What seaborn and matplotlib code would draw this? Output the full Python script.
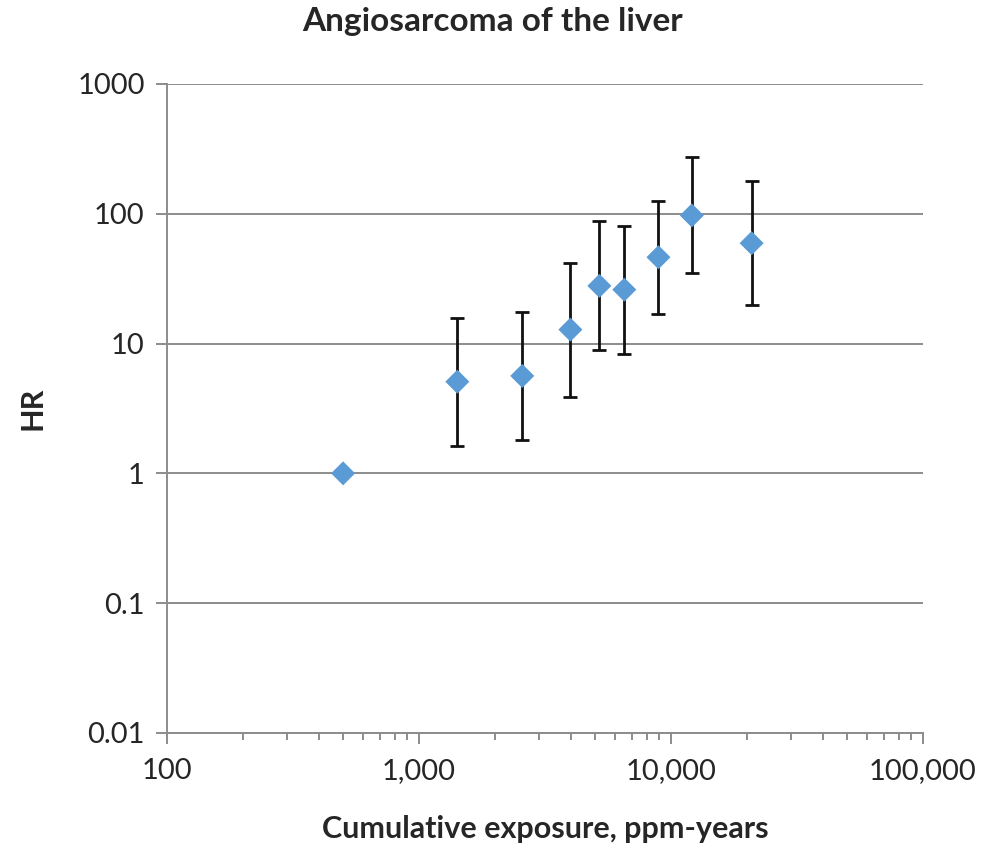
import numpy as np
import pandas as pd
import matplotlib
matplotlib.use('Agg')
import matplotlib.pyplot as plt
import matplotlib.ticker as mticker
import seaborn as sns

# data
exposure = [500, 1420, 2570, 3990, 5200, 6530, 8920, 12100, 20900]
hr = [1.0, 5.08, 5.63, 12.8, 27.8, 26.0, 46.2, 97.0, 59.3]
hr_low = [np.nan, 1.63, 1.80, 3.87, 8.94, 8.28, 17.0, 35.2, 19.8]
hr_high = [np.nan, 15.7, 17.5, 41.8, 87.2, 80.2, 125.0, 271.0, 178.0]

x_ticks = [100, 1000, 10000, 100000]
x_ticklabels = ['100', '1,000', '10,000', '100,000']
y_ticks = [0.01, 0.1, 1, 10, 100, 1000]
y_ticklabels = ['0.01', '0.1', '1', '10', '100', '1000']

df = pd.DataFrame({'exposure': exposure, 'HR': hr, 'low': hr_low, 'high': hr_high})

sns.set_style('white')
plt.rcParams['font.family'] = ['Lato', 'DejaVu Sans']

fig = plt.figure(figsize=(9.85, 8.43), dpi=100)
ax = fig.add_axes([0.1695, 0.1305, 0.7675, 0.77])

gray = '#8c8c8c'

#error bars first, markers on top
eb = df.dropna()
ax.errorbar(eb['exposure'], eb['HR'],
            yerr=[eb['HR'] - eb['low'], eb['high'] - eb['HR']],
            fmt='none', ecolor='#111111', elinewidth=2, capsize=4.8, capthick=2, zorder=2)
sns.scatterplot(data=df, x='exposure', y='HR', marker='D', s=150, color='#5b9bd5',
                edgecolor='none', ax=ax, zorder=3)

ax.set_xscale('log')
ax.set_yscale('log')
ax.set_xlim(100, 100000)
ax.set_ylim(0.01, 1000)

ax.set_xticks(x_ticks)
ax.set_xticklabels(x_ticklabels)
ax.xaxis.set_minor_locator(mticker.LogLocator(base=10, subs=np.arange(2, 10)))
ax.xaxis.set_minor_formatter(mticker.NullFormatter())
ax.set_yticks(y_ticks)
ax.set_yticklabels(y_ticklabels)
ax.yaxis.set_minor_locator(mticker.NullLocator())

ax.grid(axis='y', which='major', color=gray, linewidth=1.4)
ax.grid(axis='x', visible=False)
ax.set_axisbelow(True)

for s in ['top', 'right']:
    ax.spines[s].set_visible(False)
for s in ['left', 'bottom']:
    ax.spines[s].set_color(gray)
    ax.spines[s].set_linewidth(1.4)

ax.tick_params(axis='x', which='major', direction='out', length=8, width=1.4, color=gray,
               labelsize=21, pad=10, bottom=True)
ax.tick_params(axis='x', which='minor', direction='out', length=5, width=1.4, color=gray, bottom=True)
ax.tick_params(axis='y', which='major', direction='out', length=8, width=1.4, color=gray,
               labelsize=21, pad=8, left=True)

ax.set_xlabel('Cumulative exposure, ppm-years', fontsize=22, fontweight='bold', labelpad=22)
ax.set_ylabel('HR', fontsize=22, fontweight='bold', labelpad=22)
# title is centred on the whole figure, not the axes
fig.suptitle('Angiosarcoma of the liver', x=0.5, y=0.975, fontsize=24, fontweight='bold', va='center')

fig.savefig('out.png', dpi=100, facecolor='white')
